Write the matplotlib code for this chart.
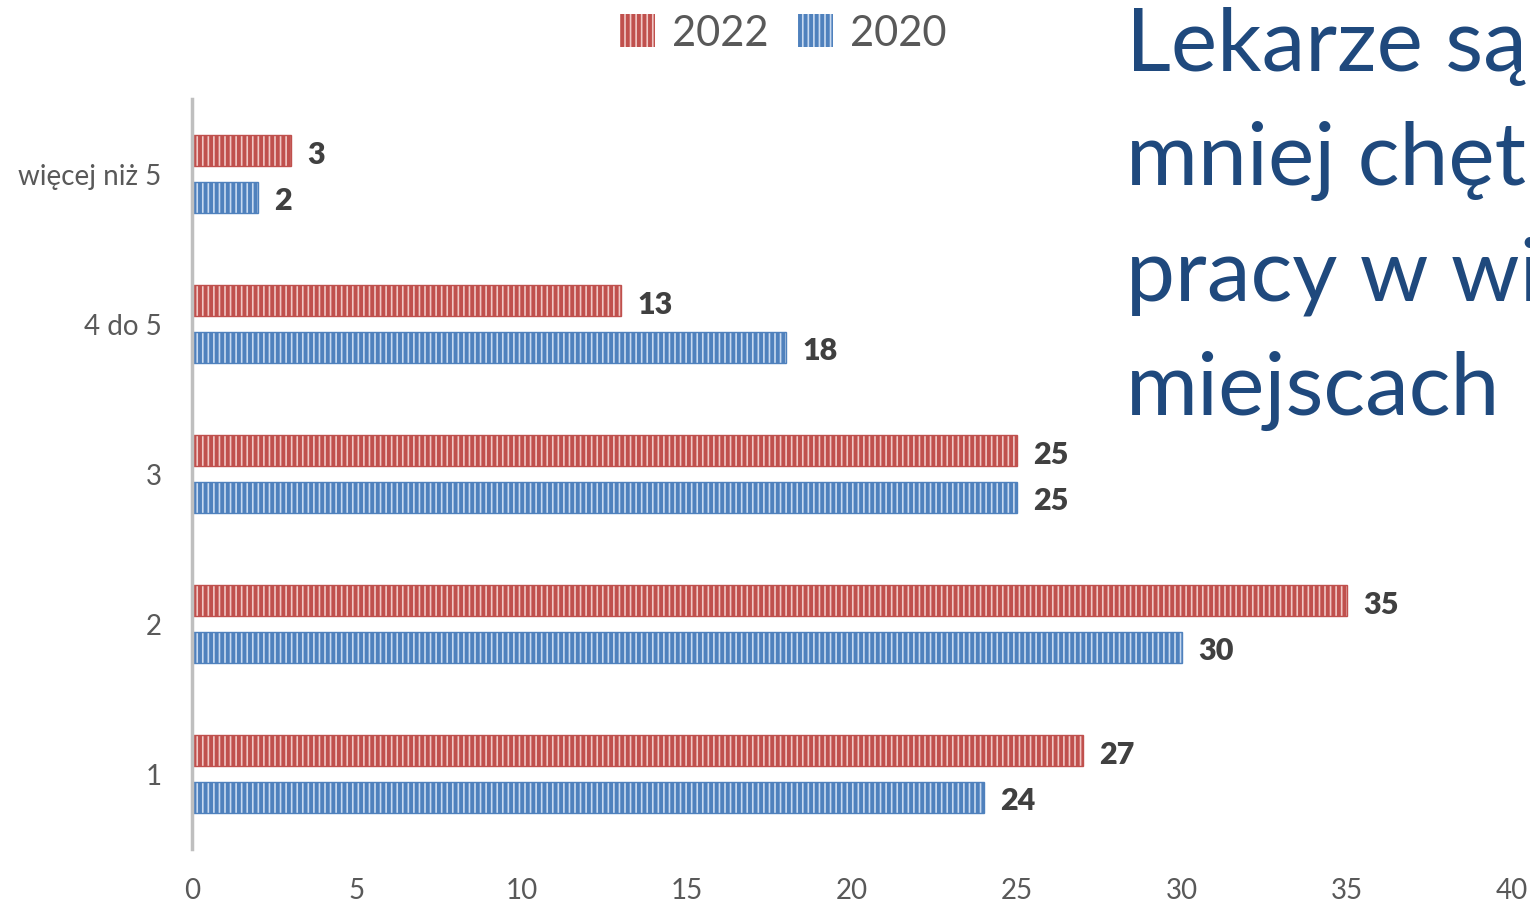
import matplotlib
matplotlib.use("Agg")
import matplotlib.pyplot as plt
import numpy as np
from matplotlib.patches import Patch

categories = ["1", "2", "3", "4 do 5", "więcej niż 5"]
series_names = ["2022", "2020"]
values_2022 = [27, 35, 25, 13, 3]
values_2020 = [24, 30, 25, 18, 2]
xticks = [0, 5, 10, 15, 20, 25, 30, 35, 40]
title_lines = ["Lekarze są", "mniej chęt", "pracy w wi", "miejscach"]

plt.rcParams['font.family'] = ['Lato', 'DejaVu Sans']
plt.rcParams['hatch.linewidth'] = 1.2

fig = plt.figure(figsize=(15.3, 9.04), dpi=100)
ax = fig.add_axes([192/1530, 54/904, 1320/1530, 750/904])

y = np.arange(len(categories))
h = 0.205
off = 0.155
red_face, red_hatch = '#C0504D', '#F0C8C6'
blue_face, blue_hatch = '#4F81BD', '#C9DAF0'

ax.barh(y + off, values_2022, height=h, color=red_face, edgecolor=red_hatch,
        hatch='|||', linewidth=0)
ax.barh(y - off, values_2020, height=h, color=blue_face, edgecolor=blue_hatch,
        hatch='|||', linewidth=0)
# outline
ax.barh(y + off, values_2022, height=h, fill=False, edgecolor=red_face, linewidth=1)
ax.barh(y - off, values_2020, height=h, fill=False, edgecolor=blue_face, linewidth=1)

for yy, v in zip(y + off, values_2022):
    ax.text(v + 0.5, yy - 0.02, str(v), va='center', ha='left', fontsize=22,
            fontweight='heavy', color='#404040')
for yy, v in zip(y - off, values_2020):
    ax.text(v + 0.5, yy - 0.02, str(v), va='center', ha='left', fontsize=22,
            fontweight='heavy', color='#404040')

ax.set_xlim(0, 40)
ax.set_ylim(-0.5, len(categories) - 0.5)
ax.set_yticks(y)
ax.set_yticklabels(categories, fontsize=20, color='#595959')
ax.set_xticks(xticks)
ax.set_xticklabels([str(t) for t in xticks], fontsize=20, color='#595959')
ax.tick_params(axis='both', length=0)
ax.tick_params(axis='y', pad=22)
ax.tick_params(axis='x', pad=20)
for s in ['top', 'right', 'bottom']:
    ax.spines[s].set_visible(False)
ax.spines['left'].set_color('#BFBFBF')
ax.spines['left'].set_linewidth(2.5)

handles = [Patch(facecolor=red_face, edgecolor=red_hatch, hatch='|||', linewidth=0),
           Patch(facecolor=blue_face, edgecolor=blue_hatch, hatch='|||', linewidth=0)]
fig.legend(handles, series_names, loc='center', bbox_to_anchor=(783/1530, 1 - 34/904),
           ncol=2, frameon=False, fontsize=30, labelcolor='#595959',
           handlelength=0.85, handleheight=0.85, handletextpad=0.4, columnspacing=0.7)

for i, line in enumerate(title_lines):
    fig.text(1126/1530, 1 - (46 + i * 115)/904, line, fontsize=63, color='#1F497D',
             ha='left', va='center')

fig.savefig("out.png", dpi=100)
